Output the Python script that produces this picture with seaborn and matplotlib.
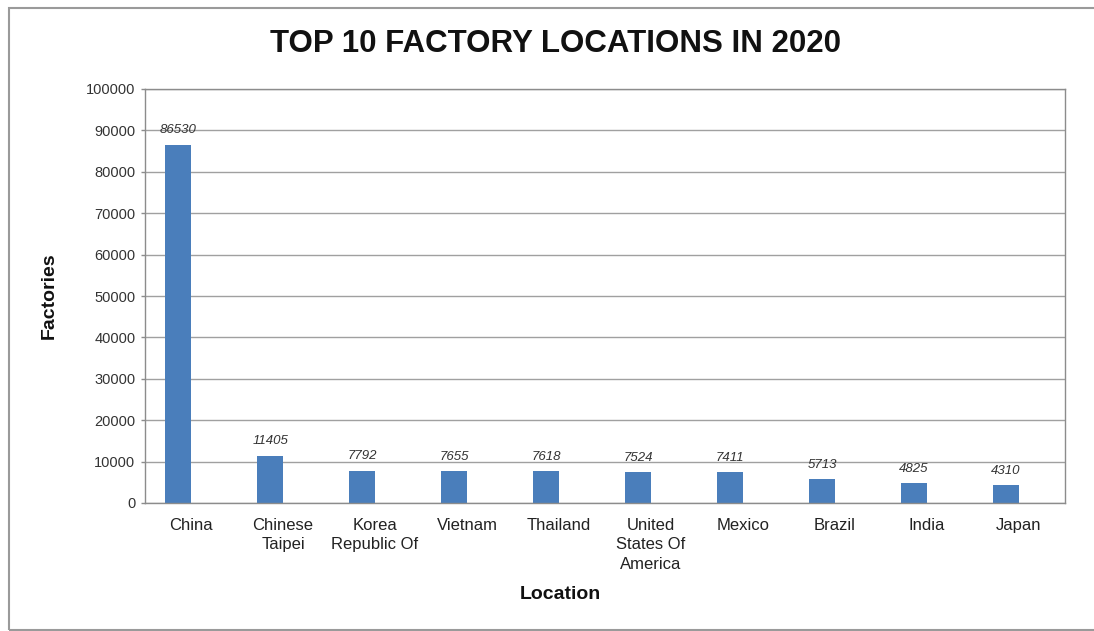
import matplotlib
matplotlib.use("Agg")
import matplotlib.pyplot as plt
from matplotlib.patches import Rectangle
import seaborn as sns
import pandas as pd

locations = ["China", "Chinese\nTaipei", "Korea\nRepublic Of", "Vietnam", "Thailand",
             "United\nStates Of\nAmerica", "Mexico", "Brazil", "India", "Japan"]
factories = [86530, 11405, 7792, 7655, 7618, 7524, 7411, 5713, 4825, 4310]
y_ticks = [0, 10000, 20000, 30000, 40000, 50000, 60000, 70000, 80000, 90000, 100000]

df = pd.DataFrame({"Location": locations, "Factories": factories})

sns.set_style("white")
plt.rcParams["font.family"] = ["Liberation Sans", "DejaVu Sans"]

fig = plt.figure(figsize=(10.94, 6.31), dpi=100)
W, H = 1094, 631
ax = fig.add_axes([145 / W, 1 - 503 / H, 920 / W, 414 / H])

bar_color = "#4a7ebb"
sns.barplot(data=df, x="Location", y="Factories", color=bar_color,
            saturation=1, width=0.28, ax=ax)

# bars sit just left of each category centre
for p in ax.patches:
    p.set_x(p.get_x() - p.get_width() / 2)
    p.set_edgecolor("none")

ax.bar_label(ax.containers[0], labels=[str(v) for v in factories],
             padding=6, fontsize=9.5, fontstyle="italic", color="#333333")

ax.set_ylim(0, 100000)
ax.set_xlim(-0.5, len(locations) - 0.5)
ax.set_yticks(y_ticks)
ax.set_yticklabels([str(t) for t in y_ticks])
ax.yaxis.grid(True, color="#a0a0a0", linewidth=1.0)
ax.set_axisbelow(True)

for side in ["left", "right", "top", "bottom"]:
    ax.spines[side].set_visible(True)
    ax.spines[side].set_color("#8c8c8c")
    ax.spines[side].set_linewidth(1.0)

ax.tick_params(axis="y", length=3, width=1, color="#8c8c8c", pad=4,
               labelsize=10.5, labelcolor="#333333", left=True)
ax.tick_params(axis="x", length=0, pad=11, labelsize=12, labelcolor="#222222")
for lbl in ax.get_xticklabels():
    lbl.set_linespacing(1.35)

ax.set_ylabel("Factories", fontsize=14, fontweight="bold", color="#111111")
ax.yaxis.set_label_coords(-0.095, 0.5)
ax.set_xlabel("Location", fontsize=14, fontweight="bold", color="#111111")
ax.xaxis.set_label_coords(0.452, -0.2)

fig.text(556 / W, 1 - 52 / H, "TOP 10 FACTORY LOCATIONS IN 2020",
         ha="center", va="baseline", fontsize=22.5, fontweight="bold", color="#111111")

# outer chart border
fig.add_artist(Rectangle((9 / W, 1 / H), 1.2, 1 - 9 / H, transform=fig.transFigure,
                         fill=False, edgecolor="#9a9a9a", linewidth=1.5))

fig.savefig("out.png", dpi=100, facecolor="white")
